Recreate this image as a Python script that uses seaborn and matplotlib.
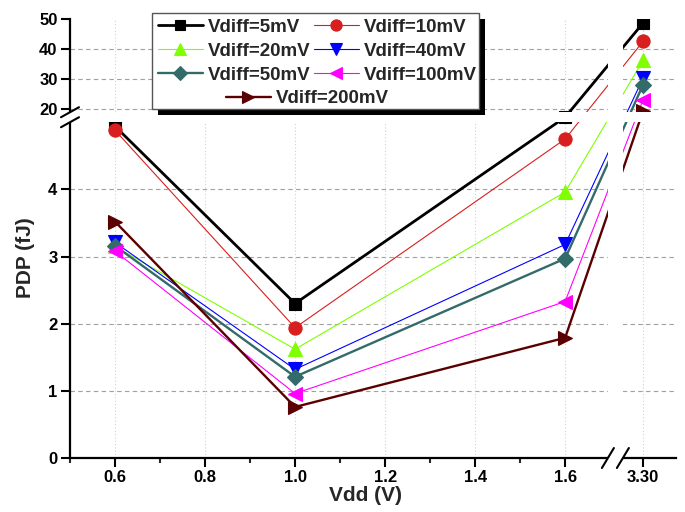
import numpy as np
import pandas as pd
import matplotlib
matplotlib.use("Agg")
import matplotlib.pyplot as plt
import seaborn as sns
from matplotlib.patches import Rectangle
from matplotlib.transforms import IdentityTransform

# ---------------- data ----------------
vdd = [0.6, 1.0, 1.6, 3.30]
series_labels = ["Vdiff=5mV", "Vdiff=10mV", "Vdiff=20mV", "Vdiff=40mV",
                 "Vdiff=50mV", "Vdiff=100mV", "Vdiff=200mV"]
pdp_5mV = [4.94, 2.30, 12.0, 48.7]
pdp_10mV = [4.88, 1.94, 4.75, 42.6]
pdp_20mV = [3.15, 1.62, 3.96, 36.3]
pdp_40mV = [3.21, 1.32, 3.18, 30.4]
pdp_50mV = [3.16, 1.21, 2.97, 28.2]
pdp_100mV = [3.08, 0.96, 2.33, 23.2]
pdp_200mV = [3.52, 0.76, 1.79, 19.5]
all_series = [pdp_5mV, pdp_10mV, pdp_20mV, pdp_40mV, pdp_50mV, pdp_100mV, pdp_200mV]

x_ticks = [0.6, 0.8, 1.0, 1.2, 1.4, 1.6, 3.30]
x_tick_labels = ["0.6", "0.8", "1.0", "1.2", "1.4", "1.6", "3.30"]
x_minor_ticks = [0.5, 0.7, 0.9, 1.1, 1.3, 1.5]
y_ticks = [0, 1, 2, 3, 4, 20, 30, 40, 50]
y_tick_labels = ["0", "1", "2", "3", "4", "20", "30", "40", "50"]
y_grid = [1, 2, 3, 4, 20, 30, 40]

# broken-axis breakpoints
x_break = (1.695, 3.255)
y_break = (5.0, 19.0)

# ---------------- style ----------------
colors = ["#000000", "#d81e1e", "#80ff00", "#0000ff", "#336b6b", "#ff00ff", "#5a0000"]
markers = ["s", "o", "^", "v", "D", "<", ">"]
lws = [2.0, 0.8, 0.8, 0.8, 1.7, 0.8, 1.7]
msizes = [8, 9.5, 9.5, 9.5, 8.5, 9.5, 9.5]

sns.set_theme(style="ticks")
plt.rcParams["font.family"] = ["Liberation Sans", "DejaVu Sans"]
plt.rcParams["font.weight"] = "bold"
plt.rcParams["axes.labelweight"] = "bold"

fig = plt.figure(figsize=(6.85, 5.12), dpi=100)
ax = fig.add_axes([70 / 685, 1 - 458 / 512, 606 / 685, 439 / 512])

# piecewise-linear scales (broken axes)
xb_src = [-100.0, x_break[0], x_break[1], 100.0]
xb_dst = [-100.0, x_break[0], 1.7283, 100.0 - 1.5267]
yb_src = [-100.0, y_break[0], y_break[1], 1000.0]
yb_dst = [-100.0, y_break[0], 5.149, 5.149 + (1000.0 - 19.0) * 0.04478]

def xf(v):
    return np.interp(v, xb_src, xb_dst)

def xi(v):
    return np.interp(v, xb_dst, xb_src)

def yf(v):
    return np.interp(v, yb_src, yb_dst)

def yi(v):
    return np.interp(v, yb_dst, yb_src)

ax.set_xscale("function", functions=(xf, xi))
ax.set_yscale("function", functions=(yf, yi))

for vals, lab, c, m, lw, ms in zip(all_series, series_labels, colors, markers, lws, msizes):
    df = pd.DataFrame({"Vdd": vdd, "PDP": vals})
    sns.lineplot(data=df, x="Vdd", y="PDP", ax=ax, color=c, marker=m, linewidth=lw,
                 markersize=ms, markeredgecolor=c, markeredgewidth=0.8, label=lab,
                 zorder=3)

ax.set_xlim(0.5, 3.373)
ax.set_ylim(0, 50)

# grid
for yv in y_grid:
    ax.axhline(yv, color="#a0a0a0", lw=0.8, ls=(0, (4, 3)), zorder=1)
for xv in x_ticks:
    ax.axvline(xv, color="#d0d0d0", lw=0.8, ls=(0, (1, 2)), zorder=1)

ax.set_xticks(x_ticks)
ax.set_xticklabels(x_tick_labels)
ax.set_xticks(x_minor_ticks, minor=True)
ax.set_yticks(y_ticks)
ax.set_yticklabels(y_tick_labels)
ax.yaxis.set_minor_locator(matplotlib.ticker.NullLocator())

ax.tick_params(axis="both", which="major", direction="out", length=6.5, width=1.5,
               labelsize=12, pad=2.5, colors="black")
ax.tick_params(axis="x", which="minor", direction="out", length=3.5, width=1.5)
for s in ["top", "right"]:
    ax.spines[s].set_visible(False)
for s in ["left", "bottom"]:
    ax.spines[s].set_linewidth(1.6)
    ax.spines[s].set_color("black")

ax.set_xlabel("Vdd (V)", fontsize=15, fontweight="bold")
ax.set_ylabel("PDP (fJ)", fontsize=15, fontweight="bold")
ax.xaxis.set_label_coords(0.487, -0.064)
ax.yaxis.set_label_coords(-0.057, 0.456)

# break bands (white gaps)
xa0 = ax.transAxes.inverted().transform(ax.transData.transform((x_break[0], 1)))[0]
xa1 = ax.transAxes.inverted().transform(ax.transData.transform((x_break[1], 1)))[0]
ya0 = ax.transAxes.inverted().transform(ax.transData.transform((1, y_break[0])))[1]
ya1 = ax.transAxes.inverted().transform(ax.transData.transform((1, y_break[1])))[1]
ax.add_patch(Rectangle((xa0, -0.02), xa1 - xa0, 1.02, transform=ax.transAxes,
                       facecolor="white", edgecolor="none", zorder=6, clip_on=False))
ax.add_patch(Rectangle((-0.02, ya0), 1.02, ya1 - ya0, transform=ax.transAxes,
                       facecolor="white", edgecolor="none", zorder=6, clip_on=False))

# break marks
dxp, dyp = 6 / 606, 10 / 439
for xc in (xa0, xa1):
    ax.plot([xc - dxp, xc + dxp], [-dyp, dyp], transform=ax.transAxes, color="black",
            lw=1.5, clip_on=False, zorder=7)
dxq, dyq = 9 / 606, 5 / 439
for yc in (ya0, ya1):
    ax.plot([-dxq, dxq], [yc - dyq, yc + dyq], transform=ax.transAxes, color="black",
            lw=1.5, clip_on=False, zorder=7)

# legend: 3 rows x 2 cols (row-major) + centered last entry
handles, labels = ax.get_legend_handles_labels()
leg_kw = dict(frameon=False, prop={"weight": "bold", "size": 13.5}, handlelength=2.4,
              handletextpad=0.3, columnspacing=0.15, labelspacing=0.36,
              borderpad=0.3, borderaxespad=0, markerscale=0.85)
order = [0, 2, 4, 1, 3, 5]
leg1 = ax.legend([handles[i] for i in order], [labels[i] for i in order],
                 loc="upper left", bbox_to_anchor=(152 / 685, 1 - 13 / 512),
                 bbox_transform=fig.transFigure, ncol=2, **leg_kw)
leg1.set_zorder(10)
ax.add_artist(leg1)
fig.canvas.draw()
r = fig.canvas.get_renderer()
b1 = leg1.get_window_extent(r)
leg_kw["borderpad"] = 0.0
leg2 = ax.legend([handles[6]], [labels[6]], loc="upper center",
                 bbox_to_anchor=((b1.x0 + b1.width * 0.47) / 685, (b1.y0 - 1) / 512),
                 bbox_transform=fig.transFigure, ncol=1, **leg_kw)
leg2.set_zorder(10)
fig.canvas.draw()
b2 = leg2.get_window_extent(r)
fx0, fx1 = b1.x0, b1.x1 - 4
fy1 = b1.y1
fy0 = b2.y0 - 2
frame = Rectangle((fx0, fy0), fx1 - fx0, fy1 - fy0, transform=IdentityTransform(),
                  facecolor="white", edgecolor="#555555", lw=1.0, zorder=9.5, clip_on=False)
shadow = Rectangle((fx0 + 6, fy0 - 6), fx1 - fx0, fy1 - fy0, transform=IdentityTransform(),
                   facecolor="black", edgecolor="none", zorder=9, clip_on=False)
ax.add_artist(shadow)
ax.add_artist(frame)

fig.savefig("out.png", dpi=100)
